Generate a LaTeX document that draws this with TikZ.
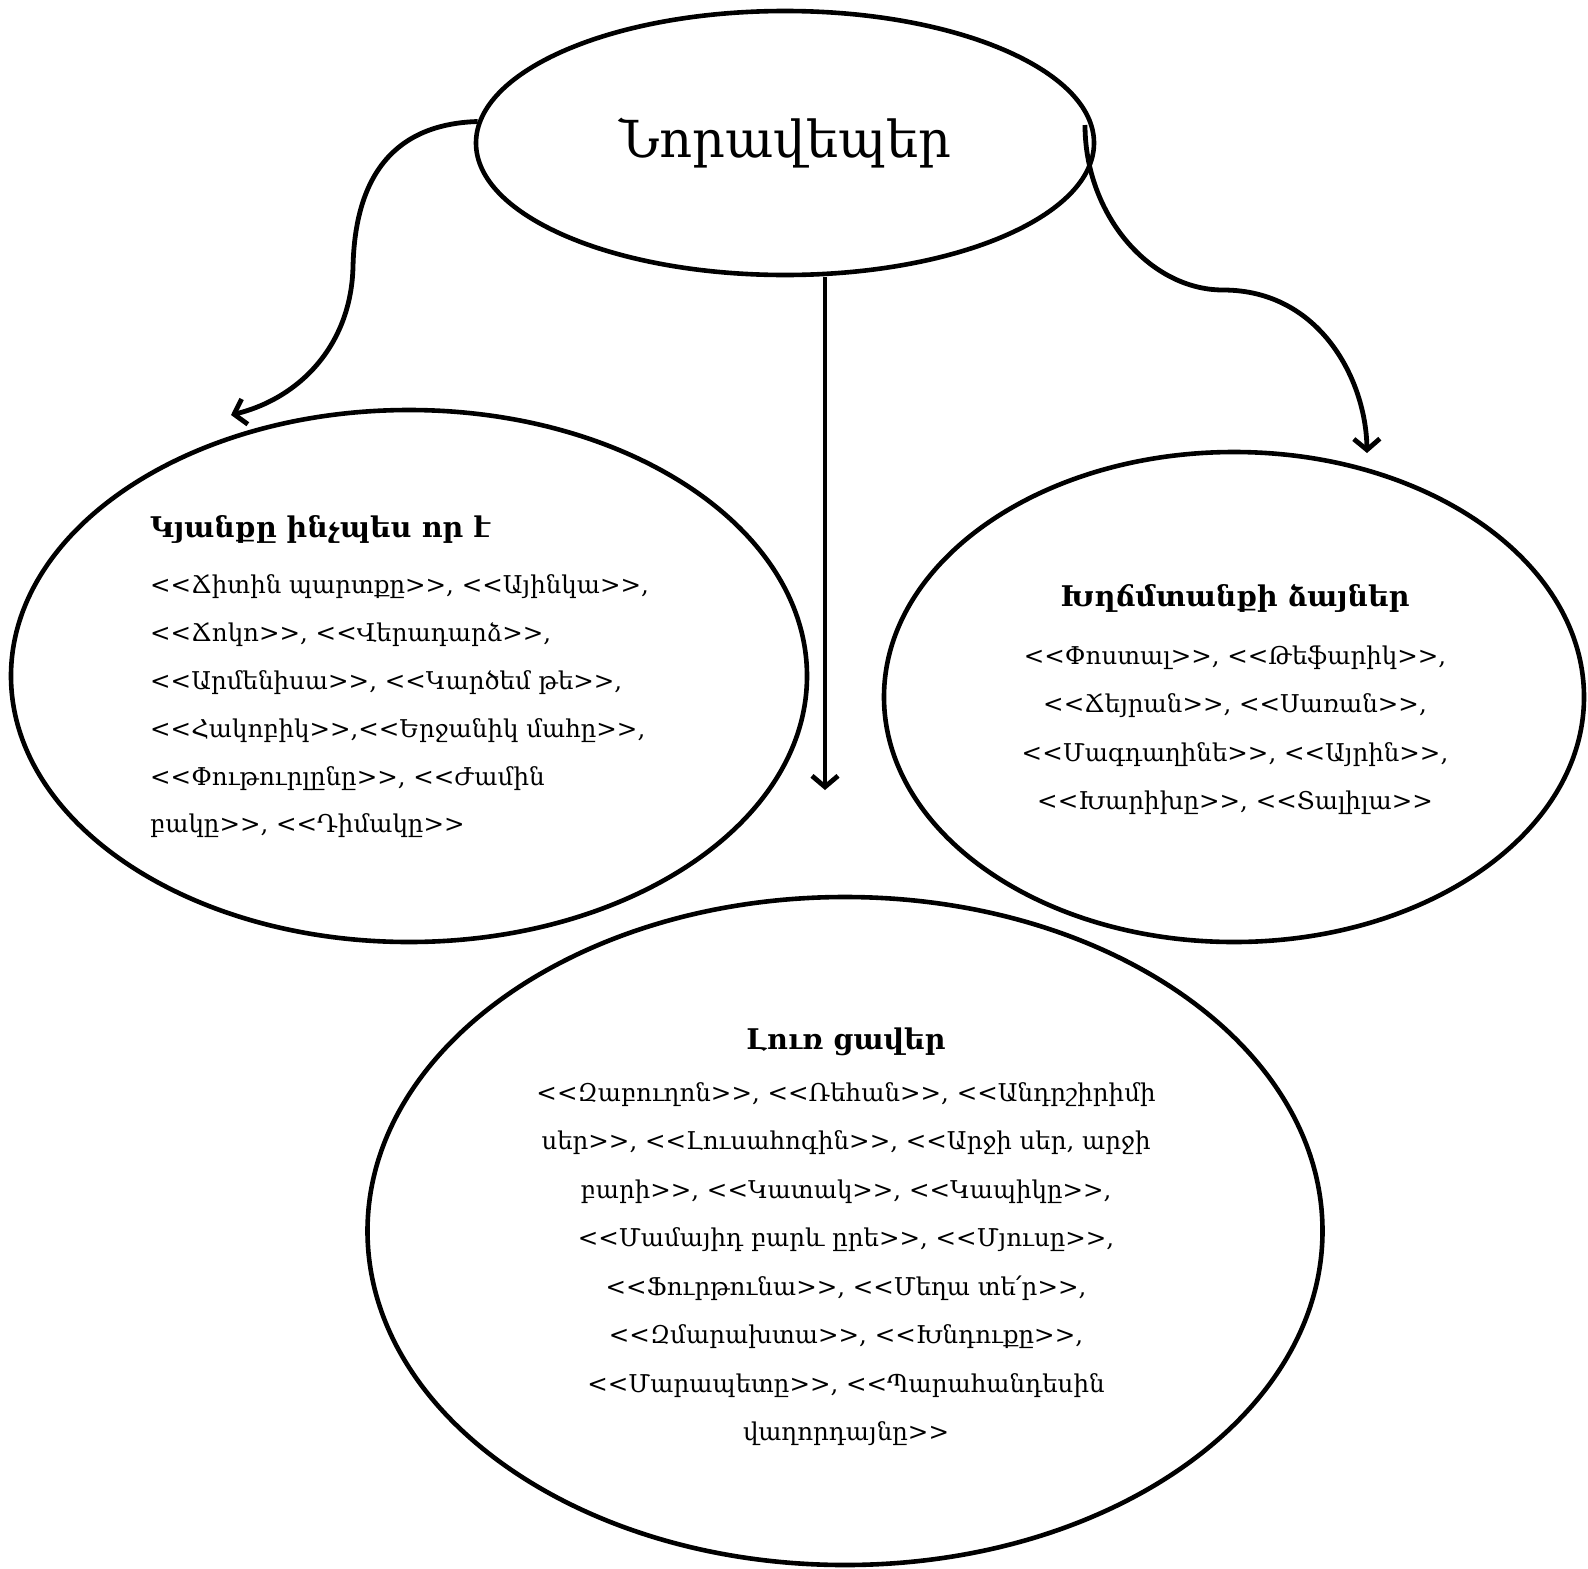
\documentclass[tikz,border=0pt]{standalone}
\usepackage{fontspec}
\setmainfont{DejaVu Serif}[Ligatures=TeXOff]
\usetikzlibrary{arrows.meta,shapes.geometric}
\begin{document}
\begin{tikzpicture}[x=1pt,y=-1pt,
  oval/.style={draw, ellipse, line width=4.6pt, inner sep=0pt},
  conn/.style={line width=4.8pt, -{Straight Barb[length=11pt,width=26pt,line width=4.8pt]}},
  body/.style={inner sep=0pt, font={\fontsize{24.5}{48.5}\selectfont}}]
\useasboundingbox (0,0) rectangle (1588,1569);
% ellipses
\node[oval, minimum width=618pt, minimum height=264pt, font={\fontsize{51}{55}\selectfont}] (top) at (785,143) {Նորավեպեր};
\node[oval, minimum width=796pt, minimum height=532pt] (left) at (409,676) {};
\node[oval, minimum width=700pt, minimum height=490pt] (right) at (1234,697) {};
\node[oval, minimum width=955pt, minimum height=668pt] (bottom) at (845,1231) {};
% texts
\node[body, align=left, anchor=north west, font={\fontsize{24.5}{47.8}\selectfont}] (lefttext) at (150,515) {%
{\bfseries\fontsize{28.5}{47.8}\selectfont Կյանքը ինչպես որ է}\\[9pt]
<<Ճիտին պարտքը>>, <<Այինկա>>,\\
<<Ճոկո>>, <<Վերադարձ>>,\\
<<Արմենիսա>>, <<Կարծեմ թե>>,\\
<<Հակոբիկ>>,<<Երջանիկ մահը>>,\\
<<Փութուրլընը>>, <<Ժամին\\
բակը>>, <<Դիմակը>>};
\node[body, align=center, anchor=north] (righttext) at (1235,584) {%
{\bfseries\fontsize{28.5}{48.5}\selectfont Խղճմտանքի ձայներ}\\[9pt]
<<Փոստալ>>, <<Թեֆարիկ>>,\\
<<Ճեյրան>>, <<Սառան>>,\\
<<Մագդաղինե>>, <<Այրին>>,\\
<<Խարիխը>>, <<Տալիլա>>};
\node[body, align=center, anchor=north] (bottomtext) at (846,1028) {%
{\bfseries\fontsize{28.5}{48.5}\selectfont Լուռ ցավեր}\\[3pt]
<<Զաբուղոն>>, <<Ռեհան>>, <<Անդրշիրիմի\\
սեր>>, <<Լուսահոգին>>, <<Արջի սեր, արջի\\
բարի>>, <<Կատակ>>, <<Կապիկը>>,\\
<<Մամայիդ բարև ըրե>>, <<Մյուսը>>,\\
<<Ֆուրթունա>>, <<Մեղա տե՛ր>>,\\
<<Զմարախտա>>, <<Խնդուքը>>,\\
<<Մարապետը>>, <<Պարահանդեսին\\
վաղորդայնը>>};
% arrow end points
\coordinate (lefttip) at (231,415);
\coordinate (righttip) at (1367,453);
\coordinate (midtip) at (825,790);
\coordinate (rightstart) at (1085,125);
% connectors
\draw[conn] (top.176) .. controls (395,124) and (355,175) .. (353,267)
  .. controls (351,345) and (300,398) .. (lefttip);
\draw[conn] (rightstart) .. controls (1085,215) and (1150,290) .. (1223,290)
  .. controls (1320,290) and (1366,380) .. (righttip);
\draw[conn] (top.south -| midtip) -- (midtip);
\end{tikzpicture}
\end{document}
